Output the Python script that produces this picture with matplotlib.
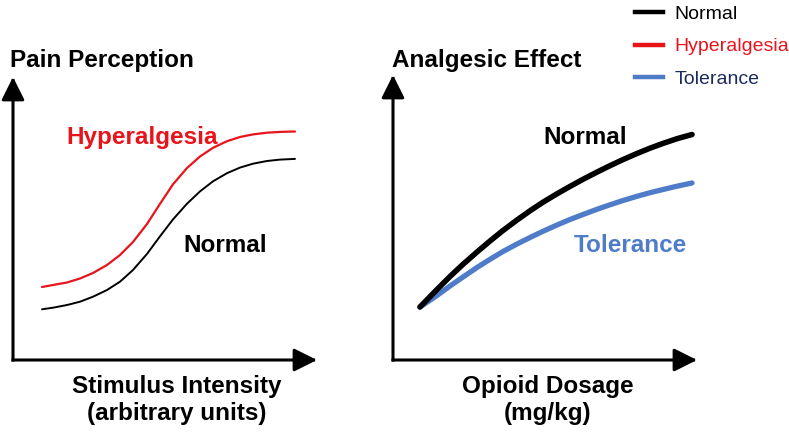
import numpy as np
import matplotlib
matplotlib.use("Agg")
import matplotlib.pyplot as plt
from matplotlib.lines import Line2D

plt.rcParams['font.family'] = ['Liberation Sans', 'DejaVu Sans']

# ---- data (axes run 0..10 on both panels) ----
stim_x = [0.954, 1.316, 1.776, 2.204, 2.632, 3.092, 3.520, 3.947, 4.408, 4.836,
          5.263, 5.724, 6.151, 6.579, 7.039, 7.467, 7.895, 8.355, 8.783, 9.276]
pain_hyper = [2.580, 2.650, 2.739, 2.880, 3.074, 3.357, 3.710, 4.170, 4.806, 5.519,
              6.208, 6.784, 7.191, 7.498, 7.731, 7.880, 7.972, 8.032, 8.060, 8.074]
pain_normal = [1.792, 1.848, 1.943, 2.060, 2.237, 2.473, 2.767, 3.180, 3.749, 4.371,
               4.968, 5.523, 5.958, 6.314, 6.601, 6.799, 6.937, 7.032, 7.081, 7.106]

dose_x = [0.888, 1.447, 1.875, 2.303, 2.763, 3.191, 3.618, 4.079, 4.507, 4.934, 5.395,
          5.822, 6.250, 6.711, 7.138, 7.566, 8.026, 8.454, 8.882, 9.342, 9.836]
effect_normal = [1.860, 2.474, 2.930, 3.358, 3.789, 4.175, 4.544, 4.912, 5.235, 5.537, 5.832,
                 6.091, 6.340, 6.593, 6.818, 7.032, 7.246, 7.432, 7.600, 7.765, 7.912]
effect_tolerance = [1.860, 2.263, 2.596, 2.912, 3.246, 3.533, 3.807, 4.070, 4.298, 4.516, 4.737,
                    4.930, 5.105, 5.288, 5.446, 5.596, 5.744, 5.870, 5.982, 6.098, 6.211]

legend_labels = ['Normal', 'Hyperalgesia', 'Tolerance']

BLACK = '#000000'
RED = '#e8141c'
BLUE = '#4f7cc9'
NAVY = '#1c2b5e'

W, H = 789, 432


def px(x, y):
    """pixel position -> figure fraction"""
    return x / W, 1 - y / H


def arrow_axes(ax):
    """Hide spines, draw the two axes as arrows"""
    for s in ax.spines.values():
        s.set_visible(False)
    ax.set_xticks([])
    ax.set_yticks([])
    ax.set_xlim(0, 10)
    ax.set_ylim(0, 10)
    style = dict(arrowstyle='-|>,head_length=1.0,head_width=0.5', lw=2.2,
                 color='black', shrinkA=0, shrinkB=0, mutation_scale=14,
                 capstyle='projecting')
    ax.annotate('', xy=(1, 0), xytext=(0, 0), xycoords='axes fraction',
                arrowprops=style, annotation_clip=False)
    ax.annotate('', xy=(0, 1), xytext=(0, 0), xycoords='axes fraction',
                arrowprops=style, annotation_clip=False)


fig = plt.figure(figsize=(W / 100, H / 100), dpi=100)

# left panel: pain perception
l0, b0 = px(13, 360)
l1, t1 = px(317, 77)
ax1 = fig.add_axes([l0, b0, l1 - l0, t1 - b0])
arrow_axes(ax1)
ax1.plot(stim_x, pain_hyper, color=RED, lw=1.6,
         solid_capstyle='round', solid_joinstyle='round')
ax1.plot(stim_x, pain_normal, color=BLACK, lw=1.4,
         solid_capstyle='round', solid_joinstyle='round')

# right panel: analgesic effect
r0, b0 = px(393, 360)
r1, t1 = px(697, 75)
ax2 = fig.add_axes([r0, b0, r1 - r0, t1 - b0])
arrow_axes(ax2)
ax2.plot(dose_x, effect_tolerance, color=BLUE, lw=3.8,
         solid_capstyle='round', solid_joinstyle='round')
ax2.plot(dose_x, effect_normal, color=BLACK, lw=4.0,
         solid_capstyle='round', solid_joinstyle='round')

bold = dict(fontsize=17.5, fontweight='bold')

# titles and axis labels
fig.text(*px(10, 67), 'Pain Perception', ha='left', va='baseline', **bold)
fig.text(*px(392, 67), 'Analgesic Effect', ha='left', va='baseline', **bold)
fig.text(*px(177, 393), 'Stimulus Intensity', ha='center', va='baseline', **bold)
fig.text(*px(177, 420), '(arbitrary units)', ha='center', va='baseline', **bold)
fig.text(*px(548, 393), 'Opioid Dosage', ha='center', va='baseline', **bold)
fig.text(*px(548, 420), '(mg/kg)', ha='center', va='baseline', **bold)

# curve labels
fig.text(*px(66, 144), 'Hyperalgesia', color=RED, ha='left', va='baseline', **bold)
fig.text(*px(183, 252), 'Normal', color=BLACK, ha='left', va='baseline', **bold)
fig.text(*px(543, 144), 'Normal', color=BLACK, ha='left', va='baseline', **bold)
fig.text(*px(574, 252), 'Tolerance', color=BLUE, ha='left', va='baseline', **bold)

# legend
handles = [Line2D([], [], color=c, lw=3.2) for c in (BLACK, RED, BLUE)]
leg = fig.legend(handles, legend_labels, loc='upper left',
                 bbox_to_anchor=px(635, 5), frameon=False, fontsize=14,
                 handlelength=1.45, handletextpad=0.6, labelspacing=0.78,
                 borderpad=0, borderaxespad=0)
for txt, c in zip(leg.get_texts(), (BLACK, RED, NAVY)):
    txt.set_color(c)

fig.savefig('out.png', dpi=100)
